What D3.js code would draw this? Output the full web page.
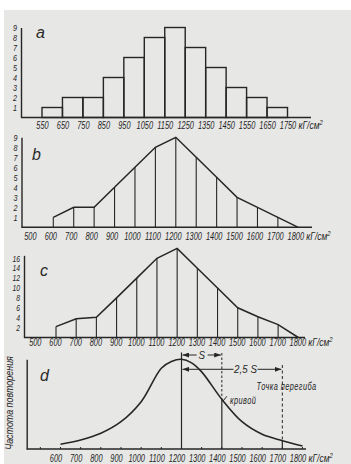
<!DOCTYPE html>
<html><head><meta charset="utf-8">
<script src="https://cdn.jsdelivr.net/npm/d3@7"></script>
<style>
html,body{margin:0;padding:0;background:#fff;}
svg{display:block;}
.t{font-family:"Liberation Sans","DejaVu Sans",sans-serif;font-style:italic;fill:#262626;}
.L{font-family:"Liberation Sans","DejaVu Sans",sans-serif;font-style:italic;fill:#2a2a2a;}
</style></head><body>
<svg id="chart" width="351" height="464"></svg>
<script>
// ---------- data ----------
const aEdges = [550,650,750,850,950,1050,1150,1250,1350,1450,1550,1650,1750];
const aCounts = [1,2,2,4,6,8,9,7,5,3,2,1];
const aYTicks = [1,2,3,4,5,6,7,8,9];

const bX = [600,700,800,900,1000,1100,1200,1300,1400,1500,1600,1700,1800];
const bCounts = [1,2,2,4,6,8,9,7,5,3,2,1,0];
const bXTicks = [500,600,700,800,900,1000,1100,1200,1300,1400,1500,1600,1700,1800];
const bYTicks = [1,2,3,4,5,6,7,8,9];

const cX = [600,700,800,900,1000,1100,1200,1300,1400,1500,1600,1700,1800];
const cCounts = [2.2,3.8,4.1,8,12,16,18,14,10,6,4.2,2.6,0];
const cXTicks = [500,600,700,800,900,1000,1100,1200,1300,1400,1500,1600,1700,1800];
const cYTicks = [2,4,6,8,10,12,14,16];

const dX = [600,700,800,900,1000,1100,1150,1200,1250,1300,1400,1500,1600,1700,1800];
const dFreq = [5.2,10,17.5,30.4,52.7,90,97.5,100,96,86,55.4,30.4,16.4,9.3,3.3];
const dXTicks = [600,700,800,900,1000,1100,1200,1300,1400,1500,1600,1700,1800];
const dMean = 1200, dS = 1400, d25S = 1700;

const unitText = "кГ/см";
const yTitleD = "Частота повторения";
const inflText1 = "Точка перегиба", inflText2 = "кривой";

// ---------- drawing ----------
const ink = "#262626";
const SX = 0.74; // condensed lettering
const svg = d3.select("#chart");
svg.append("rect").attr("x",4).attr("y",10).attr("width",347).attr("height",454).attr("fill","#e7e7e5");

const defs = svg.append("defs");
defs.append("marker").attr("id","arr").attr("viewBox","0 0 8 6").attr("refX",8).attr("refY",3)
  .attr("markerWidth",7).attr("markerHeight",5).attr("orient","auto-start-reverse").attr("markerUnits","userSpaceOnUse")
  .append("path").attr("d","M0,0L8,3L0,6Z").attr("fill",ink);

function ctext(x,y,txt,size,anchor,sx){
  return svg.append("text").attr("class","t").attr("font-size",size).attr("text-anchor",anchor||"start")
    .attr("transform",`translate(${x},${y}) scale(${sx||SX},1)`).text(txt);
}
function yAxis(scale, x, ticks, fs){
  const g = svg.append("g").attr("transform",`translate(${x},0)`)
    .call(d3.axisLeft(scale).tickValues(ticks).tickSize(0).tickSizeOuter(0).tickPadding(0).tickFormat(d3.format("d")));
  g.select(".domain").attr("stroke",ink).attr("stroke-width",1.4);
  g.selectAll("text").attr("class","t").attr("font-size",fs).attr("fill","#262626").attr("x",null)
    .attr("transform","translate(-4,0) scale(0.8,1)");
  return g;
}
function xLabels(scale, ticks, baseY, labelY, dx){
  const g = svg.append("g").attr("transform",`translate(${dx},${baseY})`)
    .call(d3.axisBottom(scale).tickValues(ticks).tickSize(0).tickFormat(d3.format("d")));
  g.select(".domain").remove();
  g.selectAll("text").attr("class","t").attr("font-size",10).attr("fill","#262626").attr("dy",null).attr("y",null)
    .attr("transform",`translate(0,${labelY-baseY}) scale(${SX},1)`);
  const last = ticks[ticks.length-1];
  const u = ctext(scale(last)+dx+11, labelY, unitText, 10, "start", 0.85);
  u.append("tspan").attr("font-size",7).attr("dy",-4).text("2");
}
function baseline(x0,x1,y){
  svg.append("line").attr("x1",x0).attr("x2",x1).attr("y1",y).attr("y2",y).attr("stroke",ink).attr("stroke-width",1.4);
}
function letter(t,x,y){ svg.append("text").attr("class","L").attr("font-size",16).attr("x",x).attr("y",y).text(t); }

// Panel a
{
  const x = d3.scaleLinear().domain([550,1750]).range([42,287.5]);
  const y = d3.scaleLinear().domain([0,9]).range([117.5,27.5]);
  yAxis(y,21,aYTicks,9);
  baseline(21,311,y(0));
  svg.append("g").selectAll("rect").data(aCounts).join("rect")
    .attr("x",(d,i)=>x(aEdges[i])).attr("width",(d,i)=>x(aEdges[i+1])-x(aEdges[i]))
    .attr("y",d=>y(d)).attr("height",d=>y(0)-y(d))
    .attr("fill","none").attr("stroke",ink).attr("stroke-width",1.4);
  xLabels(x,aEdges,y(0),129,0);
  letter("a",36,38);
}
// Panel b
{
  const x = d3.scaleLinear().domain([600,1800]).range([53.3,298.3]);
  const y = d3.scaleLinear().domain([0,9]).range([227.3,137.3]);
  yAxis(y,21.5,bYTicks,9);
  baseline(21.5,312,y(0));
  const pts = bX.map((v,i)=>[v,bCounts[i]]);
  svg.append("g").selectAll("line").data(pts.filter(p=>p[1]>0)).join("line")
    .attr("x1",p=>x(p[0])).attr("x2",p=>x(p[0])).attr("y1",p=>y(p[1])).attr("y2",y(0))
    .attr("stroke",ink).attr("stroke-width",1.1);
  svg.append("path").datum(pts).attr("d",d3.line().x(p=>x(p[0])).y(p=>y(p[1])))
    .attr("fill","none").attr("stroke",ink).attr("stroke-width",1.5);
  xLabels(x,bXTicks,y(0),240,-3);
  letter("b",32,160);
}
// Panel c
{
  const x = d3.scaleLinear().domain([600,1800]).range([56,298.3]);
  const y = d3.scaleLinear().domain([0,16.6]).range([337.5,337.5-16.6*4.95]);
  yAxis(y,24,cYTicks,8.5);
  baseline(24,305,y(0));
  const pts = cX.map((v,i)=>[v,cCounts[i]]);
  svg.append("g").selectAll("line").data(pts.filter(p=>p[1]>0)).join("line")
    .attr("x1",p=>x(p[0])).attr("x2",p=>x(p[0])).attr("y1",p=>y(p[1])).attr("y2",y(0))
    .attr("stroke",ink).attr("stroke-width",1.1);
  svg.append("path").datum(pts).attr("d",d3.line().x(p=>x(p[0])).y(p=>y(p[1])))
    .attr("fill","none").attr("stroke",ink).attr("stroke-width",1.5);
  xLabels(x,cXTicks,y(0),346,-1);
  letter("c",40,276);
}
// Panel d
{
  const x = d3.scaleLinear().domain([600,1800]).range([60.5,302.5]);
  const y = d3.scaleLinear().domain([0,100]).range([449,359.3]);
  const ga = svg.append("g").attr("transform","translate(26.7,0)")
    .call(d3.axisLeft(y).tickValues([]).tickSizeOuter(0));
  ga.select(".domain").attr("stroke",ink).attr("stroke-width",1.4);
  baseline(26.7,306,y(0));
  svg.append("g").selectAll("line").data([500].concat(dXTicks)).join("line")
    .attr("x1",d=>x(d)).attr("x2",d=>x(d)).attr("y1",y(0)).attr("y2",y(0)-2)
    .attr("stroke",ink).attr("stroke-width",1);
  const pts = dX.map((v,i)=>[v,dFreq[i]]);
  const line = d3.line().x(p=>x(p[0])).y(p=>y(p[1])).curve(d3.curveCatmullRom);
  const path = svg.append("path").datum(pts).attr("d",line)
    .attr("fill","none").attr("stroke",ink).attr("stroke-width",1.6);
  const node = path.node(), L = node.getTotalLength();
  function curveY(px){ let lo=0,hi=L; for(let k=0;k<40;k++){const m=(lo+hi)/2; if(node.getPointAtLength(m).x<px) lo=m; else hi=m;} return node.getPointAtLength(lo).y; }
  svg.append("line").attr("x1",x(dMean)).attr("x2",x(dMean)).attr("y1",352.5).attr("y2",y(0)).attr("stroke",ink).attr("stroke-width",1.2);
  const yS = curveY(x(dS));
  svg.append("line").attr("x1",x(dS)).attr("x2",x(dS)).attr("y1",353).attr("y2",yS).attr("stroke",ink).attr("stroke-width",1).attr("stroke-dasharray","2.5,2");
  svg.append("line").attr("x1",x(dS)).attr("x2",x(dS)).attr("y1",yS).attr("y2",y(0)).attr("stroke",ink).attr("stroke-width",1.2);
  const y25 = curveY(x(d25S));
  svg.append("line").attr("x1",x(d25S)).attr("x2",x(d25S)).attr("y1",365).attr("y2",y25).attr("stroke",ink).attr("stroke-width",1).attr("stroke-dasharray","3,2.5");
  svg.append("line").attr("x1",x(d25S)).attr("x2",x(d25S)).attr("y1",y25).attr("y2",y(0)).attr("stroke",ink).attr("stroke-width",1.2);
  const sY = 355, sMid = (x(dMean)+x(dS))/2;
  svg.append("line").attr("x1",sMid-5).attr("x2",x(dMean)+1).attr("y1",sY).attr("y2",sY).attr("stroke",ink).attr("stroke-width",1).attr("marker-end","url(#arr)");
  svg.append("line").attr("x1",sMid+6).attr("x2",x(dS)-1).attr("y1",sY).attr("y2",sY).attr("stroke",ink).attr("stroke-width",1).attr("marker-end","url(#arr)");
  ctext(sMid, sY+4, "S", 11.5, "middle", 0.85);
  const tY = 369.3, tMid = 245.5;
  svg.append("line").attr("x1",tMid-12).attr("x2",x(dMean)+1).attr("y1",tY).attr("y2",tY).attr("stroke",ink).attr("stroke-width",1).attr("marker-end","url(#arr)");
  svg.append("line").attr("x1",tMid+12).attr("x2",x(d25S)-1).attr("y1",tY).attr("y2",tY).attr("stroke",ink).attr("stroke-width",1).attr("marker-end","url(#arr)");
  ctext(tMid, tY+4, "2,5 S", 11.5, "middle", 0.85);
  ctext(256.5, 389.5, inflText1, 10, "start").attr("letter-spacing",0.6);
  ctext(230, 404, inflText2, 10, "start").attr("letter-spacing",0.6);
  svg.append("path").attr("d",`M${x(dS)+1},${yS+2}L${x(dS)+5},${yS-3}`).attr("stroke",ink).attr("stroke-width",1).attr("fill","none");
  svg.append("text").attr("class","t").attr("font-size",10.5).attr("text-anchor","middle")
    .attr("transform","translate(13,403) rotate(-90) scale(0.85,1)").text(yTitleD);
  xLabels(x,dXTicks,y(0),461.5,-5);
  letter("d",40,381);
}
</script>
</body></html>
